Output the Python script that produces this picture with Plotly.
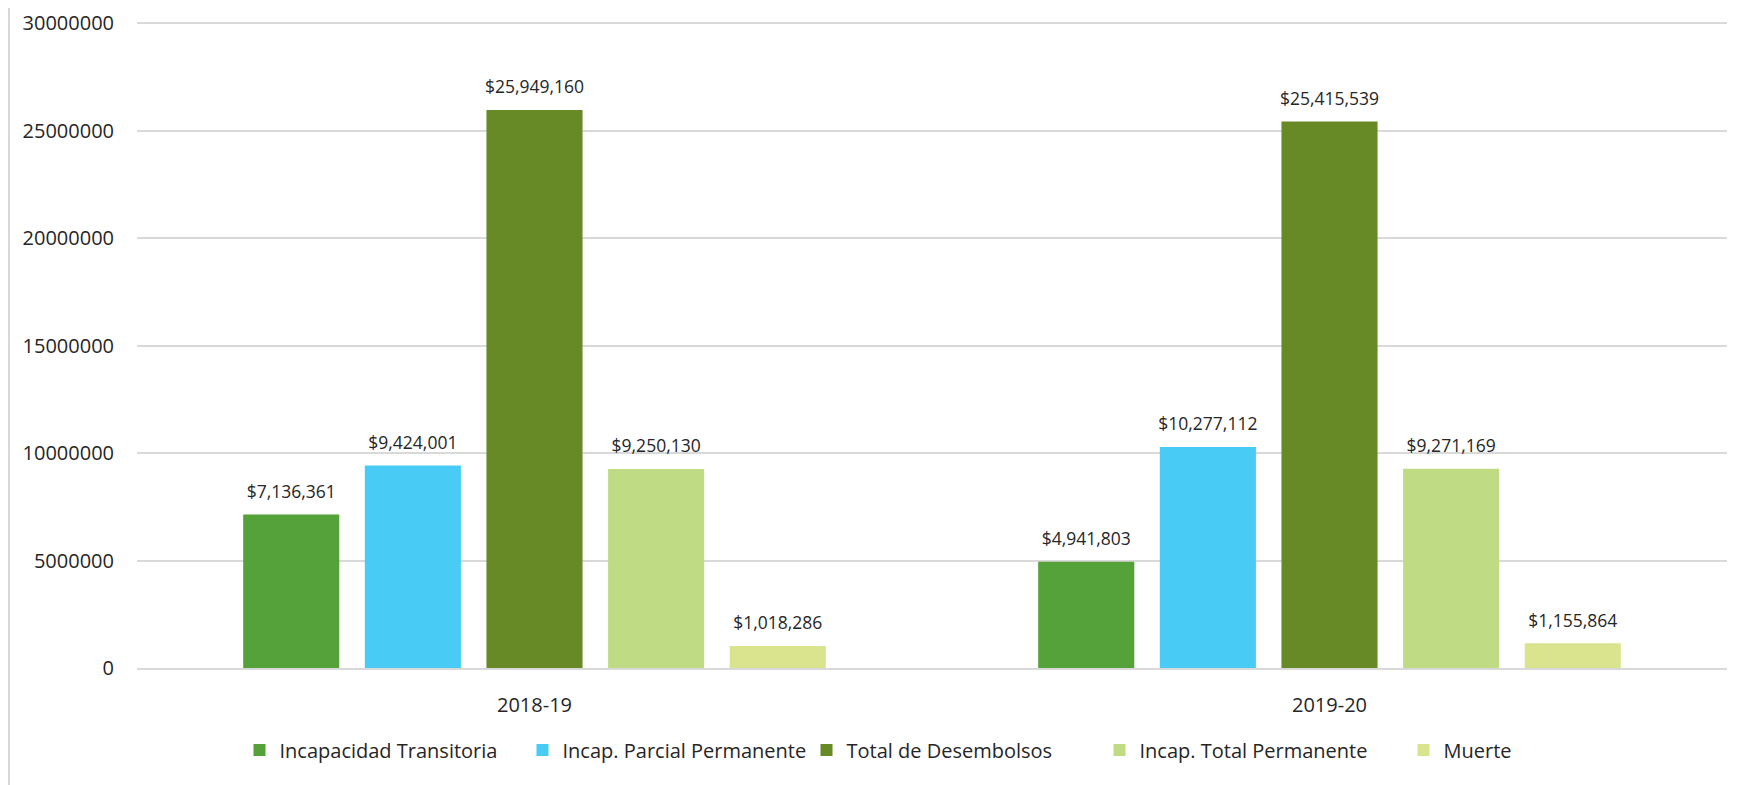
import plotly.graph_objects as go

categories = ["2018-19", "2019-20"]
series_names = [
    "Incapacidad Transitoria",
    "Incap. Parcial Permanente",
    "Total de Desembolsos",
    "Incap. Total Permanente",
    "Muerte",
]
incap_transitoria = [7136361, 4941803]
incap_parcial = [9424001, 10277112]
total_desembolsos = [25949160, 25415539]
incap_total = [9250130, 9271169]
muerte = [1018286, 1155864]
y_ticks = [0, 5000000, 10000000, 15000000, 20000000, 25000000, 30000000]

series_values = [incap_transitoria, incap_parcial, total_desembolsos, incap_total, muerte]
colors = ["#55A13A", "#48CCF6", "#678A27", "#BFDC85", "#DAE38E"]
legend_widths = [238, 239, 248, 259, None]

W, H = 1741, 777
ML, MR, MT, MB = 129, 22, 13, 117
TXT = "#262626"
FONT = "Open Sans, Noto Sans, sans-serif"

fig = go.Figure()
for name, vals, col, lw in zip(series_names, series_values, colors, legend_widths):
    fig.add_trace(go.Bar(
        x=categories, y=vals, name=name,
        marker=dict(color=col, line=dict(width=0)),
        offsetgroup=name,
        legendwidth=lw,
        hoverinfo="name+y",
    ))
for name, vals in zip(series_names, series_values):
    fig.add_trace(go.Scatter(
        x=categories, y=vals, name=name, showlegend=False,
        mode="markers+text",
        marker=dict(size=18, opacity=0),
        text=[f"${v:,.0f}" for v in vals],
        textposition="top center",
        textfont=dict(size=17.5, color=TXT, family=FONT),
        offsetgroup=name,
        cliponaxis=False,
        hoverinfo="skip",
    ))

plot_len = H - MT - MB
y_top = max(y_ticks) * plot_len / (plot_len - 2)

fig.update_layout(
    width=W, height=H,
    margin=dict(l=ML, r=MR, t=MT, b=MB),
    paper_bgcolor="white", plot_bgcolor="white",
    font=dict(family=FONT, size=20, color=TXT),
    barmode="group",
    bargap=0.235,
    bargroupgap=0.21,
    scattermode="group",
    scattergap=0.235,
    showlegend=True,
    legend=dict(
        orientation="h", xref="container", yref="container",
        x=0.5, xanchor="center", y=1 - (750 - 8) / H, yanchor="middle",
        font=dict(size=20, color=TXT),
        itemwidth=30, traceorder="normal",
    ),
    xaxis=dict(
        showgrid=False, showline=True, linecolor="#D9D9D9", linewidth=2,
        ticks="", ticklabelstandoff=18, tickfont=dict(size=20, color=TXT),
        automargin=False,
    ),
    yaxis=dict(
        range=[0, y_top], tickvals=y_ticks, tickformat="d",
        showgrid=True, gridcolor="#D9D9D9", gridwidth=2,
        zeroline=False, showline=False, ticks="",
        ticklabeloverflow="allow", automargin=False,
        ticklabelstandoff=22, tickfont=dict(size=20, color=TXT),
    ),
    shapes=[dict(
        type="line", xref="paper", yref="paper",
        x0=(1 - ML) / (W - ML - MR), x1=(1 - ML) / (W - ML - MR),
        y0=-MB / plot_len, y1=(H - MT) / plot_len,
        line=dict(color="#D9D9D9", width=2),
    )],
)

fig.write_html("out.html")
